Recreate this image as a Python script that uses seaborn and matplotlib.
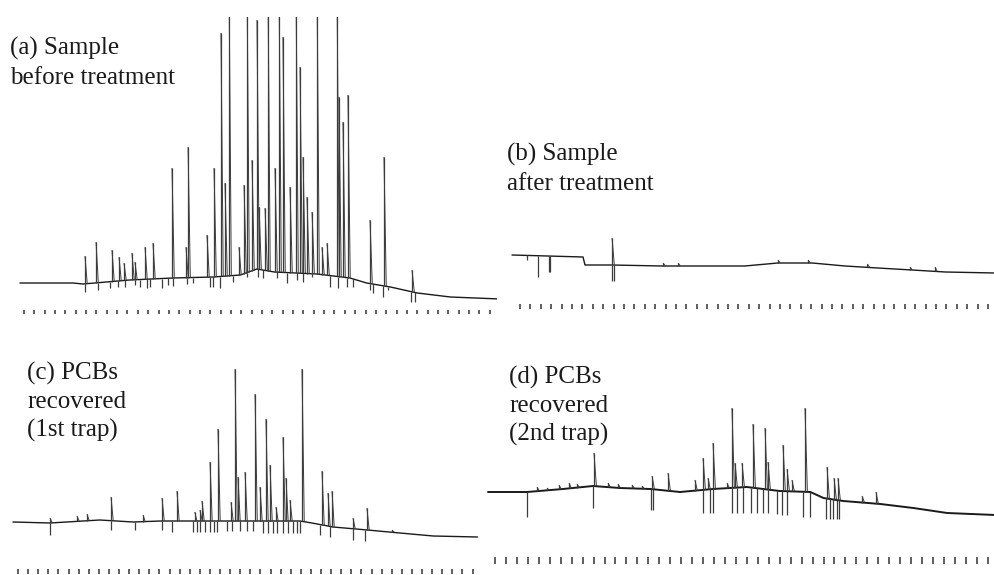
import numpy as np
import matplotlib.pyplot as plt
import seaborn as sns
from matplotlib.collections import LineCollection

sns.set_theme(style="white")
plt.rcParams["font.family"] = ["Liberation Serif", "DejaVu Serif"]

W, H = 995, 575
n_marks = 46  # one timing mark per minute

# ---- (a) sample before treatment: retention time (min), response (chart units)
a_base_t = [-0.39, 4.73, 5.7, 10.2, 14.4, 18.3, 20.9, 22.5, 24.2, 28.3, 31.5, 33.1, 35.4, 38.0, 41.2, 46.0]
a_base_y = [0, 0, -1, 3, 5, 6, 8, 14, 11, 9, 5, 0, -4, -10, -14, -16]
a_peak_t = [5.89, 6.96, 8.50, 9.18, 9.66, 10.43, 10.72, 11.69, 12.46, 14.30, 15.65, 15.85,
            17.68, 18.36, 19.03, 19.42, 19.81, 20.77, 21.26, 21.55, 22.03, 22.51, 22.71,
            23.29, 23.57, 24.25, 24.64, 25.02, 25.70, 26.28, 26.67, 26.96, 27.34, 27.83,
            28.31, 28.79, 29.28, 30.24, 30.43, 30.82, 31.30, 33.43, 34.78, 37.49]
a_peak_y = [27, 41, 33, 26, 20, 30, 21, 36, 40, 115, 36, 136,
            48, 115, 250, 100, 300, 36, 98, 300, 123, 263, 76,
            75, 300, 115, 300, 246, 96, 300, 216, 126, 86, 71,
            300, 36, 40, 300, 186, 161, 188, 63, 126, 13]
a_mark_t = [5.89, 7.15, 8.31, 9.08, 9.76, 10.72, 11.21, 11.88, 12.17, 13.33, 13.91, 14.40,
            15.75, 16.33, 17.97, 18.26, 18.94, 20.19, 21.55, 22.61, 23.09, 24.44, 25.41,
            26.38, 26.96, 27.83, 29.57, 30.34, 31.21, 31.79, 33.43, 33.72, 34.69, 35.17,
            37.39, 37.78]
a_mark_y = [-9, -7, -5, -4, -4, -2, -4, -5, -4, -5, -2, -3,
            -1, 0, -4, -4, -5, 1, 6, 6, 5, 5, 0,
            3, 1, 6, -4, -5, -4, -4, -7, -10, -14, -7,
            -19, -19]

# ---- (b) sample after treatment
b_base_t = [-0.77, 6.06, 6.25, 8.85, 13.65, 21.6, 24.8, 28.1, 31.25, 34.4, 37.7, 40.9, 45.7]
b_base_y = [0, -2, -10, -10, -11, -11, -8, -8, -11, -13, -15, -17, -18]
b_peak_t = [8.85, 13.75, 15.2, 24.8, 27.7, 33.4, 37.5, 39.9]
b_peak_y = [17, -8, -8, -5, -5, -9, -12, -12]
b_mark_t = [0.67, 1.73, 2.79, 2.88, 8.85, 9.04]
b_mark_y = [-5, -22, -17, -17, -26, -26]

# ---- (c) PCBs recovered, 1st trap
c_base_t = [-0.5, 3.17, 8.1, 11.4, 14.1, 17.3, 21.3, 27.9, 29.1, 31.2, 34.6, 37.8, 41.1, 45.5]
c_base_y = [0, -1, 2, 0, 1, 1, 1, 1, -1, -5, -8, -11, -14, -15]
c_peak_t = [3.17, 5.84, 6.83, 9.21, 12.38, 14.26, 15.74, 17.5, 18.02, 18.22, 19.01, 19.80,
            21.09, 21.49, 21.78, 22.48, 23.47, 23.96, 24.55, 24.95, 25.54, 26.24, 26.53,
            26.93, 28.12, 30.10, 30.69, 31.09, 33.17, 34.55, 37.03]
c_peak_y = [4, 6, 8, 25, 7, 24, 31, 10, 12, 21, 60, 93,
            20, 153, 45, 50, 128, 35, 103, 57, 15, 85, 44,
            22, 153, 51, 29, 31, 4, 14, -8]
c_mark_t = [3.17, 9.21, 11.58, 14.26, 15.25, 17.33, 17.72, 18.02, 18.51, 19.01, 19.41, 19.70,
            20.69, 21.19, 21.98, 22.67, 23.27, 24.26, 24.75, 25.25, 25.64, 26.24, 26.73,
            27.23, 27.62, 27.92, 29.90, 30.89, 33.17, 34.36]
c_mark_y = [-13, -8, -8, -8, -10, -10, -10, -10, -10, -10, -10, -10,
            -9, -9, -9, -9, -9, -11, -11, -11, -11, -11, -11,
            -11, -11, -11, -13, -15, -18, -19]

# ---- (d) PCBs recovered, 2nd trap
d_base_t = [-0.64, 2.92, 6.2, 8.95, 11.4, 14.2, 16.9, 19.9, 23.0, 26.0, 28.8, 30.0, 31.8, 35.2, 38.2, 41.3, 45.7]
d_base_y = [0, 0, 3, 6, 4, 3, 0, 3, 5, 1, 0, -6, -9, -12, -16, -21, -23]
d_peak_t = [3.84, 4.75, 5.84, 6.76, 7.49, 9.04, 10.32, 11.23, 12.51, 13.42, 14.34, 15.80,
            18.26, 19.00, 19.45, 19.91, 21.19, 21.64, 21.92, 22.56, 23.56, 24.66, 24.93,
            26.30, 26.67, 27.12, 28.31, 30.32, 30.96, 31.32, 33.52, 34.79]
d_peak_y = [5, 4, 7, 9, 8, 39, 9, 8, 7, 6, 16, 19,
            12, 34, 14, 49, 9, 84, 29, 29, 68, 64, 30,
            47, 23, 12, 84, 25, 14, 14, -4, 0]
d_mark_t = [2.92, 8.95, 14.25, 14.43, 19.00, 19.63, 19.91, 21.64, 22.10, 22.65, 23.38, 23.93,
            24.47, 24.93, 25.75, 26.21, 26.67, 28.13, 28.77, 30.23, 30.59, 30.87, 31.23, 31.42]
d_mark_y = [-25, -16, -18, -18, -21, -21, -21, -21, -21, -21, -21, -21,
            -21, -21, -22, -23, -23, -25, -25, -27, -27, -27, -27, -27]

labels = {
    "a": ["(a) Sample", "before treatment"],
    "b": ["(b) Sample", "after treatment"],
    "c": ["(c) PCBs", "recovered", "(1st trap)"],
    "d": ["(d) PCBs", "recovered", "(2nd trap)"],
}

ink = "#1a1a1a"
peak_ink = "#3c3c3c"
tail = 0.22  # width of the peak tail, min


def draw_panel(fig, box, x0, dx, base, data, tick_y, tick_len, lw):
    left, top, right, bottom = box
    base_t, base_y, peak_t, peak_y, mark_t, mark_y = data
    ax = fig.add_axes([left / W, 1 - bottom / H, (right - left) / W, (bottom - top) / H])
    sns.lineplot(x=base_t, y=base_y, ax=ax, color=ink, lw=lw)
    # peaks: sharp rise, short tail back to the baseline
    foot = np.interp(peak_t, base_t, base_y)
    ax.vlines(peak_t, foot, peak_y, color=peak_ink, lw=0.9)
    tails = [[(t, top_), (t + tail, f)] for t, top_, f in zip(peak_t, peak_y, foot)]
    ax.add_collection(LineCollection(tails, colors=peak_ink, linewidths=0.7))
    # integrator marks below the trace
    foot = np.interp(mark_t, base_t, base_y)
    ax.vlines(mark_t, mark_y, foot, color=peak_ink, lw=0.9)
    # timing marks
    ax.vlines(np.arange(n_marks), tick_y - tick_len / 2, tick_y + tick_len / 2, color="#333333", lw=1.1)
    ax.set_xlim((left - x0) / dx, (right - x0) / dx)
    ax.set_ylim(base - bottom, base - top)
    ax.axis("off")
    return ax


fig = plt.figure(figsize=(W / 100, H / 100), dpi=100)
fig.patch.set_facecolor("white")

draw_panel(fig, (0, 17, 497, 320), 24, 10.35, 283,
           (a_base_t, a_base_y, a_peak_t, a_peak_y, a_mark_t, a_mark_y), -29, 4, 1.0)
draw_panel(fig, (500, 120, 995, 320), 520, 10.4, 255,
           (b_base_t, b_base_y, b_peak_t, b_peak_y, b_mark_t, b_mark_y), -51, 5, 1.0)
draw_panel(fig, (0, 340, 490, 575), 18, 10.1, 522,
           (c_base_t, c_base_y, c_peak_t, c_peak_y, c_mark_t, c_mark_y), -49, 5, 1.0)
draw_panel(fig, (485, 340, 995, 575), 495, 10.95, 492,
           (d_base_t, d_base_y, d_peak_t, d_peak_y, d_mark_t, d_mark_y), -68, 7, 1.4)

label_pos = {"a": (10, 55), "b": (507, 161), "c": (27, 380), "d": (509, 384)}
for key, lines in labels.items():
    x, y = label_pos[key]
    for i, line in enumerate(lines):
        fig.text(x / W, 1 - (y + i * 28.5) / H, line, fontsize=18, color=ink,
                 ha="left", va="baseline")

fig.savefig("out.png", dpi=100, facecolor="white")
